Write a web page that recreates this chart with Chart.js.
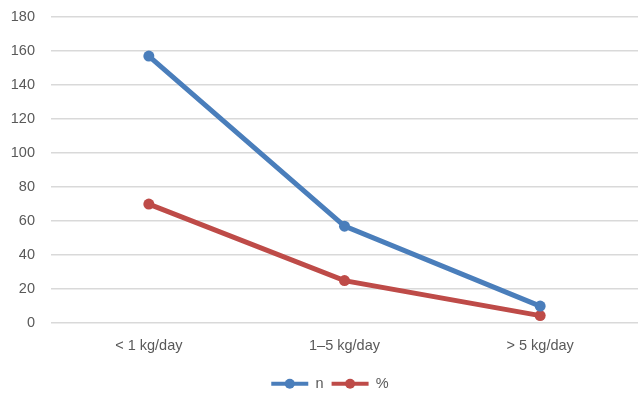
<!DOCTYPE html>
<html>
<head>
<meta charset="utf-8">
<script src="https://cdn.jsdelivr.net/npm/chart.js@4/dist/chart.umd.min.js"></script>
<style>
  html, body { margin: 0; padding: 0; background: #fff; overflow: hidden; }
  #wrap { width: 638px; height: 401px; position: relative; }
</style>
</head>
<body>
<div id="wrap"><canvas id="grafico"></canvas></div>
<script>
const categorias = ['< 1 kg/day', '1–5 kg/day', '> 5 kg/day'];
const valoresN = [157, 57, 10];
const valoresPct = [70, 25, 4.4];

const azul = '#4a7ebb';
const vermelho = '#be4b48';
const fonte = { family: 'Liberation Sans', size: 14.5 };

// legenda um pouco à direita + marcador redondo no meio da linha
const marcadorLegenda = {
    id: 'marcadorLegenda',
    afterLayout(chart) {
        if (!chart.legend) return;
        chart.legend.left += 11;
        chart.legend.right += 11;
    },
    afterDraw(chart) {
        const legend = chart.legend;
        if (!legend || !legend.legendHitBoxes) return;
        const ctx = chart.ctx;
        const boxW = legend.options.labels.boxWidth;
        legend.legendHitBoxes.forEach((hb, i) => {
            const ds = chart.data.datasets[i];
            ctx.save();
            ctx.fillStyle = ds.borderColor;
            ctx.beginPath();
            ctx.arc(hb.left + boxW / 2, hb.top + hb.height / 2, 5, 0, Math.PI * 2);
            ctx.fill();
            ctx.restore();
        });
    }
};

const ctx = document.getElementById('grafico').getContext('2d');
new Chart(ctx, {
    type: 'line',
    data: {
        labels: categorias,
        datasets: [
            {
                label: 'n',
                data: valoresN,
                borderColor: azul,
                backgroundColor: azul,
                borderWidth: 5,
                pointRadius: 5.5,
                pointHoverRadius: 5.5,
                pointBackgroundColor: azul,
                pointBorderWidth: 0
            },
            {
                label: '%',
                data: valoresPct,
                borderColor: vermelho,
                backgroundColor: vermelho,
                borderWidth: 5,
                pointRadius: 5.5,
                pointHoverRadius: 5.5,
                pointBackgroundColor: vermelho,
                pointBorderWidth: 0
            }
        ]
    },
    options: {
        responsive: true,
        maintainAspectRatio: false,
        animation: false,
        layout: { autoPadding: false, padding: { top: 17, left: 0, right: 0, bottom: 0 } },
        scales: {
            x: {
                offset: true,
                afterFit(scale) { scale.paddingLeft = 0; scale.paddingRight = 0; },
                grid: { display: false, drawTicks: false },
                border: { display: false },
                ticks: {
                    color: '#595959',
                    font: fonte,
                    padding: 14
                }
            },
            y: {
                min: 0,
                max: 180,
                afterFit(scale) {
                    scale.width = 51;
                    scale.paddingTop = 0;
                    scale.paddingBottom = 0;
                },
                grid: { color: '#d9d9d9', lineWidth: 1.5, drawTicks: false },
                border: { display: false },
                ticks: {
                    stepSize: 20,
                    color: '#595959',
                    font: fonte,
                    padding: 16
                }
            }
        },
        plugins: {
            tooltip: { enabled: false },
            legend: {
                position: 'bottom',
                labels: {
                    boxWidth: 37,
                    boxHeight: 4,
                    useBorderRadius: false,
                    color: '#595959',
                    font: fonte,
                    padding: 8,
                    generateLabels(chart) {
                        return chart.data.datasets.map((ds, i) => ({
                            text: ds.label,
                            fillStyle: ds.borderColor,
                            strokeStyle: ds.borderColor,
                            lineWidth: 0,
                            fontColor: '#595959',
                            datasetIndex: i
                        }));
                    }
                }
            }
        }
    },
    plugins: [marcadorLegenda]
});
</script>
</body>
</html>
